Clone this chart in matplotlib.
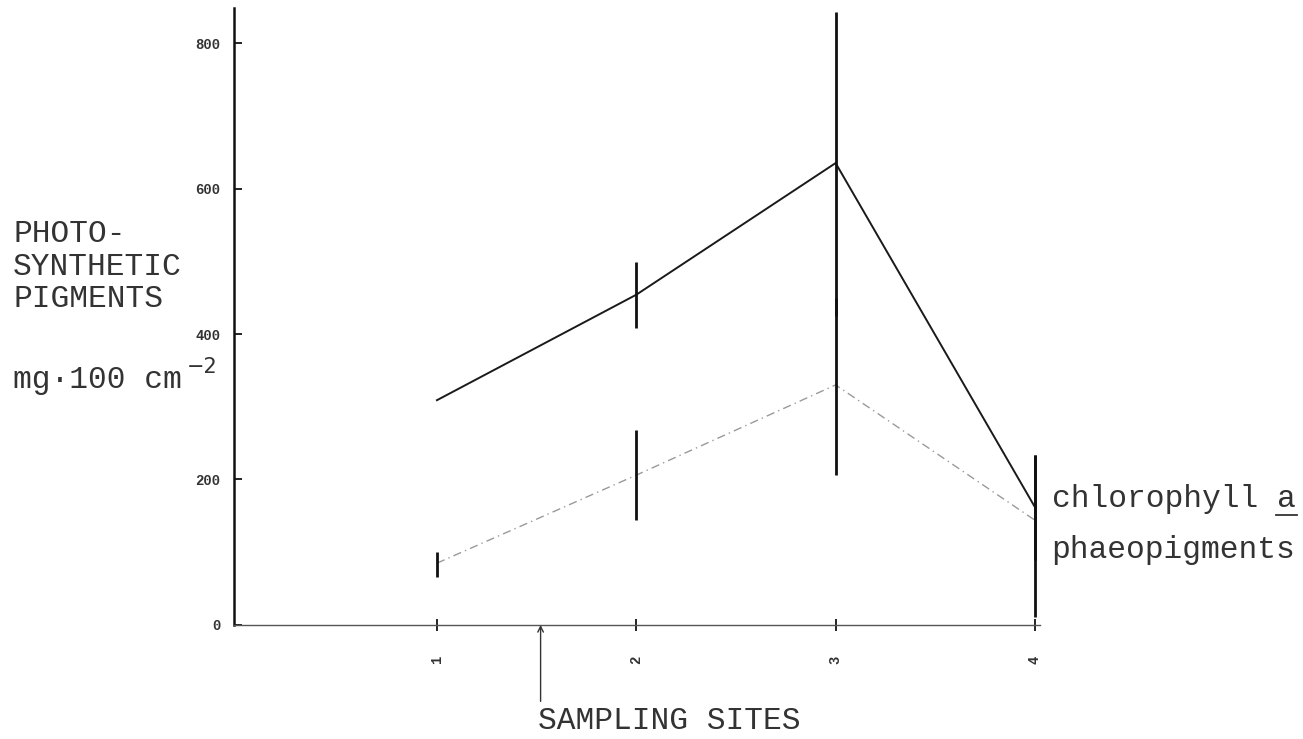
#!/usr/bin/env python3

import numpy as np
from matplotlib import pyplot as plt
from matplotlib.lines import Line2D

sites = [1, 2, 3, 4]
site_labels = ['1', '2', '3', '4']
chl = [309, 454, 635, 162]
chl_err_lo = [0, 46, 210, 72]
chl_err_hi = [0, 45, 208, 72]
phaeo = [85, 206, 330, 144]
phaeo_err_lo = [19, 62, 124, 133]
phaeo_err_hi = [16, 62, 120, 90]
yticks = [0, 200, 400, 600, 800]
ytick_labels = ['0', '200', '400', '600', '800']
arrow_site = 1.52

def main():
    mono = 'Liberation Mono'
    ink = '#333333'
    fs = 22.5
    fig = plt.figure(figsize=(13.03, 7.39), dpi=100)
    ax = fig.add_axes([0.1796, 0.1543, 0.6185, 0.8347])

    ax.plot(sites, chl, color='#1a1a1a', lw=1.4)
    ax.plot(sites, phaeo, color='#9a9a9a', lw=1.0, dashes=(6, 3, 1, 3))
    ax.errorbar(sites, chl, yerr=[chl_err_lo, chl_err_hi], fmt='none',
                ecolor='#111111', elinewidth=2.0, capsize=0)
    ax.errorbar(sites, phaeo, yerr=[phaeo_err_lo, phaeo_err_hi], fmt='none',
                ecolor='#111111', elinewidth=2.0, capsize=0)

    ax.set_xlim(-0.018, 4.025)
    ax.set_ylim(0, 848)
    for s in ['top', 'right']:
        ax.spines[s].set_visible(False)
    ax.spines['left'].set_linewidth(1.8)
    ax.spines['left'].set_color('#111111')
    ax.spines['bottom'].set_linewidth(1.0)
    ax.spines['bottom'].set_color('#555555')

    ax.set_yticks(yticks)
    ax.set_yticklabels(ytick_labels, family=mono, fontsize=10,
                       fontweight='bold', color=ink)
    ax.tick_params(axis='y', direction='in', length=6, width=1.2, pad=10)
    ax.set_xticks(sites)
    ax.set_xticklabels(site_labels, family=mono, fontsize=10,
                       fontweight='bold', rotation=90, color=ink)
    ax.tick_params(axis='x', direction='inout', length=8, width=1.2, pad=18)

    # arrow to the sampling sites label
    ax.annotate('', xy=(arrow_site, 0), xytext=(arrow_site, -105),
                annotation_clip=False,
                arrowprops=dict(arrowstyle='->', color='#333333', lw=1.0,
                                shrinkA=0, shrinkB=0))
    fig.text(0.413, 0.0244, 'SAMPLING SITES', family=mono, fontsize=fs,
             color=ink, ha='left', va='center')

    # y axis title, one line at a time
    for txt, yb in [('PHOTO-', 242), ('SYNTHETIC', 275), ('PIGMENTS', 307)]:
        fig.text(0.010, 1 - yb / 739, txt, family=mono, fontsize=fs,
                 color=ink, ha='left', va='baseline')
    fig.text(0.010, 1 - 388 / 739, 'mg\u00b7100 cm', family=mono,
             fontsize=fs, color=ink, ha='left', va='baseline')
    fig.text(0.1435, 1 - 367 / 739, '\u22122', family='DejaVu Sans',
             fontsize=15, color=ink, ha='left', va='center')

    # labels at the end of the lines
    fig.text(0.807, 1 - 507 / 739, 'chlorophyll a', family=mono,
             fontsize=fs, color=ink, ha='left', va='baseline')
    fig.add_artist(Line2D([1276 / 1303, 1297 / 1303],
                          [1 - 515 / 739, 1 - 515 / 739],
                          color=ink, lw=1.3, transform=fig.transFigure))
    fig.text(0.807, 1 - 558 / 739, 'phaeopigments', family=mono,
             fontsize=fs, color=ink, ha='left', va='baseline')

    plt.savefig('out.png', dpi=100)

if __name__ == '__main__':
    main()
